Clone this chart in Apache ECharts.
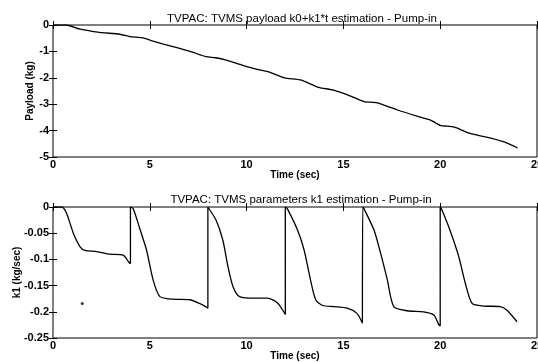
<!DOCTYPE html>
<html>
<head>
<meta charset="utf-8">
<script src="https://cdn.jsdelivr.net/npm/echarts@6/dist/echarts.min.js"></script>
<style>
  html, body { margin: 0; padding: 0; background: #fff; }
  #chart { width: 538px; height: 362px; }
</style>
</head>
<body>
<div id="chart"></div>
<script>
// top panel: payload estimate
const payT = [0, 0.7, 1.4, 2.4, 3.45, 3.97, 4.65, 5.17, 5.7, 6.5, 7.2, 7.9, 8.4, 8.95, 9.8, 10.67, 11.2,
  11.96, 12.8, 13.66, 14.5, 15.5, 16.06, 16.75, 17.8, 18.8, 19.5, 20.0, 20.7, 21.5, 22.4, 23.3, 24.0];
const payV = [0, 0, -0.16, -0.28, -0.35, -0.44, -0.49, -0.61, -0.72, -0.88, -1.03, -1.2, -1.24, -1.33, -1.53, -1.7, -1.79,
  -2.0, -2.08, -2.35, -2.47, -2.73, -2.9, -2.95, -3.22, -3.45, -3.6, -3.8, -3.86, -4.1, -4.25, -4.43, -4.66];

// bottom panel: k1 estimate (resets to 0 every 4 s)
const k1T = [0, 0.45, 0.7, 1.05, 1.4, 1.65, 2.25, 2.94, 3.62, 3.93, 4.0,
  4.0, 4.14, 4.48, 4.83, 5.17, 5.52, 6.2, 7.06, 7.57, 7.92, 8.0,
  8.0, 8.42, 8.77, 9.04, 9.3, 9.64, 10.5, 11.08, 11.6, 11.97, 12.0,
  12.0, 12.1, 12.63, 12.97, 13.3, 13.57, 13.92, 14.5, 15.2, 15.7, 15.98, 16.0,
  16.0, 16.06, 16.58, 16.92, 17.27, 17.6, 18.3, 19.15, 19.67, 19.93, 20.0,
  20.0, 20.06, 20.5, 20.96, 21.3, 21.65, 22.25, 23.1, 23.45, 23.97];
const k1V = [0, 0, -0.012, -0.05, -0.076, -0.083, -0.085, -0.09, -0.092, -0.106, -0.108,
  0, -0.003, -0.041, -0.082, -0.139, -0.171, -0.176, -0.177, -0.184, -0.191, -0.193,
  0, -0.025, -0.063, -0.114, -0.152, -0.171, -0.174, -0.174, -0.183, -0.203, -0.205,
  0, -0.003, -0.044, -0.082, -0.139, -0.177, -0.188, -0.19, -0.193, -0.203, -0.221, -0.222,
  0, -0.003, -0.044, -0.088, -0.139, -0.19, -0.198, -0.2, -0.206, -0.225, -0.227,
  0, -0.003, -0.044, -0.095, -0.146, -0.184, -0.189, -0.19, -0.197, -0.219];
const strayPoint = [1.51, -0.184];

const titles = ['TVPAC: TVMS payload k0+k1*t estimation - Pump-in', 'TVPAC: TVMS parameters k1 estimation - Pump-in'];
const xName = 'Time (sec)';
const yNames = ['Payload (kg)', 'k1 (kg/sec)'];

const font = 'Liberation Sans, Arial, Helvetica, sans-serif';
const chart = echarts.init(document.getElementById('chart'));

const baseX = (grid, show) => ({
  type: 'value', gridIndex: grid, min: 0, max: 25, interval: 5,
  position: show ? 'bottom' : 'top',
  axisLine: { show: false },
  axisTick: { show: true, inside: true, length: 4, lineStyle: { color: '#000' } },
  axisLabel: { show: show, color: '#000', fontFamily: font, fontWeight: 'bold', fontSize: 11, margin: 2 },
  splitLine: { show: false },
  name: show ? xName : '', nameLocation: 'middle', nameGap: 13, nameMoveOverlap: false,
  nameTextStyle: { color: '#000', fontFamily: font, fontWeight: 'bold', fontSize: 10 }
});
const baseY = (grid, show, min, max, interval, name, gap) => ({
  type: 'value', gridIndex: grid, min: min, max: max, interval: interval,
  position: show ? 'left' : 'right',
  axisLine: { show: false },
  axisTick: { show: true, inside: true, length: 4, lineStyle: { color: '#000' } },
  axisLabel: { show: show, color: '#000', fontFamily: font, fontWeight: 'bold', fontSize: 11, margin: 4 },
  splitLine: { show: false },
  name: show ? name : '', nameLocation: 'middle', nameGap: gap, nameRotate: 90, nameMoveOverlap: false,
  nameTextStyle: { color: '#000', fontFamily: font, fontWeight: 'bold', fontSize: 10 }
});

chart.setOption({
  animation: false,
  backgroundColor: '#fff',
  title: [
    { text: titles[0], left: 297, top: 8, textAlign: 'center',
      textStyle: { fontFamily: font, fontSize: 11.5, fontWeight: 'normal', color: '#000' } },
    { text: titles[1], left: 296, top: 189, textAlign: 'center',
      textStyle: { fontFamily: font, fontSize: 11.5, fontWeight: 'normal', color: '#000' } }
  ],
  grid: [
    { left: 53, right: 1, top: 25, height: 132, outerBoundsMode: 'none', containLabel: false,
      show: true, borderColor: '#000', borderWidth: 1, backgroundColor: 'transparent' },
    { left: 53, right: 1, top: 207, height: 131, outerBoundsMode: 'none', containLabel: false,
      show: true, borderColor: '#000', borderWidth: 1, backgroundColor: 'transparent' }
  ],
  xAxis: [baseX(0, true), baseX(0, false), baseX(1, true), baseX(1, false)],
  yAxis: [
    baseY(0, true, -5, 0, 1, yNames[0], 18),
    baseY(0, false, -5, 0, 1, '', 0),
    baseY(1, true, -0.25, 0, 0.05, yNames[1], 31),
    baseY(1, false, -0.25, 0, 0.05, '', 0)
  ],
  series: [
    { type: 'line', xAxisIndex: 0, yAxisIndex: 0, showSymbol: false, smooth: 0.2,
      lineStyle: { color: '#000', width: 1.3 },
      data: payT.map((t, i) => [t, payV[i]]) },
    { type: 'line', xAxisIndex: 2, yAxisIndex: 2, showSymbol: false, smooth: 0.25,
      lineStyle: { color: '#000', width: 1.3 },
      data: k1T.map((t, i) => [t, k1V[i]]) },
    { type: 'scatter', xAxisIndex: 2, yAxisIndex: 2, symbolSize: 3,
      itemStyle: { color: '#000' }, data: [strayPoint] }
  ]
});
</script>
</body>
</html>
